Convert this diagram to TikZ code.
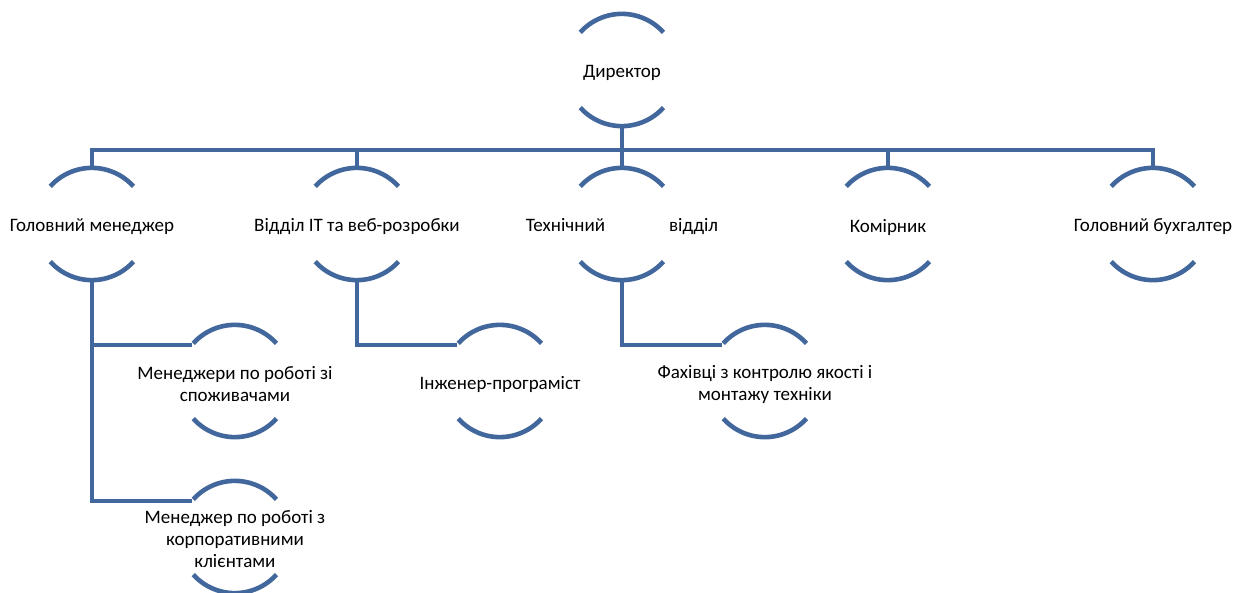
\documentclass[tikz,border=0pt]{standalone}
\usepackage{fontspec}
\setmainfont{Carlito}
\definecolor{ringblue}{RGB}{66,103,156}

\begin{document}
\begin{tikzpicture}[x=1pt, y=-1pt,
		ring/.style={circle, minimum size=112pt, inner sep=0pt},
		label/.style={font=\fontsize{19}{22}\selectfont, align=center, inner sep=0pt, yshift=-3pt},
		link/.style={draw=ringblue, line width=4.6pt}]
		\useasboundingbox (0,0) rectangle (1233,593);

		% Rings
		\node[ring] (dir) at (622,70) {};
		\node[ring] (gm) at (92,224) {};
		\node[ring] (it) at (357,224) {};
		\node[ring] (tech) at (622,224) {};
		\node[ring] (store) at (888,224) {};
		\node[ring] (acc) at (1153,224) {};
		\node[ring] (cust) at (235,381) {};
		\node[ring] (corp) at (235,537) {};
		\node[ring] (prog) at (500,381) {};
		\node[ring] (qual) at (765,381) {};

		% Texts
		\node[label] (tdir) at (dir) {Директор};
		\node[label] (tgm) at (gm) {Головний менеджер};
		\node[label] (tit) at (it) {Відділ ІТ та веб-розробки};
		\node[label] (ttech) at (tech) {Технічний\hspace{64pt}відділ};
		\node[label] (tstore) at (store) {Комірник};
		\node[label] (tacc) at (acc) {Головний бухгалтер};
		\node[label] (tcust) at (cust) {Менеджери по роботі зі\\споживачами};
		\node[label] (tcorp) at ([yshift=1pt]corp) {Менеджер по роботі з\\корпоративними\\клієнтами};
		\node[label] (tprog) at (prog) {Інженер-програміст};
		\node[label] (tqual) at (qual) {Фахівці з контролю якості і\\монтажу техніки};

		% Arcs
		\foreach \n in {dir,gm,it,tech,store,acc,cust,corp,prog,qual} {
			\draw[link] (\n.138) arc[start angle=138, end angle=42, radius=56pt];
			\draw[link] (\n.222) arc[start angle=222, end angle=318, radius=56pt];
		}

		% Connectors
		\coordinate (bus) at (622,150);
		\draw[link] (dir.south) -- (bus);
		\foreach \n in {gm,it,tech,store,acc}
			\draw[link] (bus) -| (\n.north);
		\draw[link] (gm.south) |- (cust.140);
		\draw[link] (gm.south) |- (corp.140);
		\draw[link] (it.south) |- (prog.140);
		\draw[link] (tech.south) |- (qual.140);
	\end{tikzpicture}
\end{document}
